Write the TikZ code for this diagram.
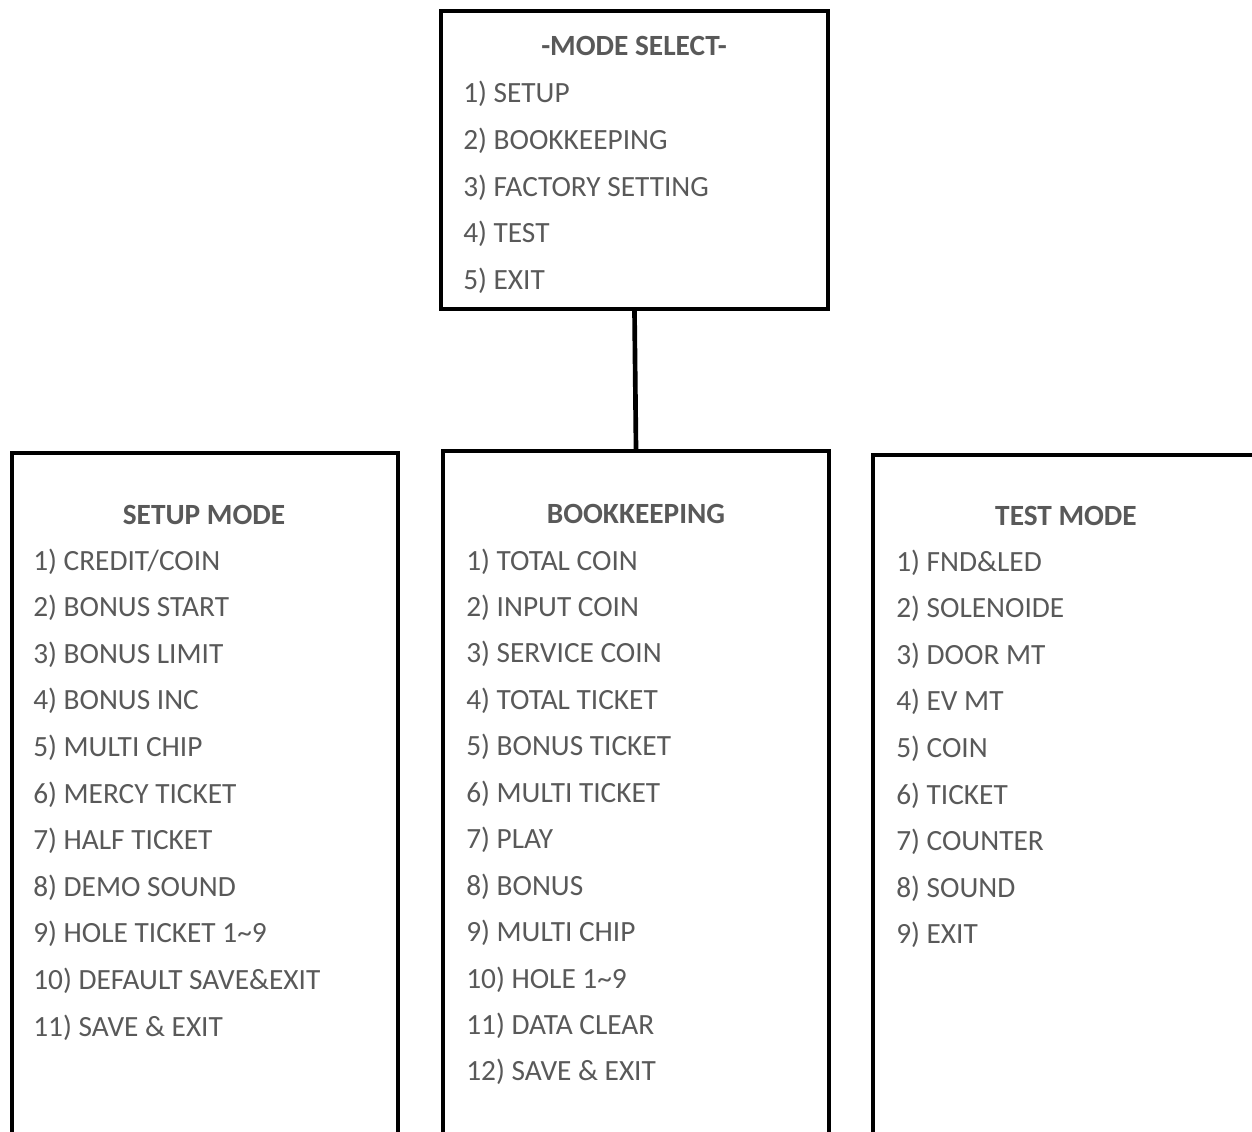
\documentclass[tikz,border=0pt]{standalone}
\usepackage{fontspec}
\setmainfont{Carlito}
\definecolor{ink}{HTML}{595959}

\begin{document}
\begin{tikzpicture}[x=.75pt,y=-.75pt,
  every node/.style={font=\fontsize{22}{26}\selectfont,text=ink},
  frame/.style={draw=black,line width=3pt,inner sep=0pt},
  item/.style={anchor=base west,inner sep=0pt},
  head/.style={anchor=base,inner sep=0pt,font=\fontsize{22}{26}\selectfont\bfseries}]
\useasboundingbox (0,0) rectangle (1252,1131);
\clip (0,0) rectangle (1252,1131);
% boxes
\node[frame,minimum width=290.25pt,minimum height=223.5pt] (sel) at (634.5,160){};
\node[frame,minimum width=289.5pt,minimum height=519pt] (setup) at (205,799){};
\node[frame,minimum width=289.5pt,minimum height=520.5pt] (book) at (636,798){};
\node[frame,minimum width=294pt,minimum height=517.5pt] (test) at (1069,800){};
\draw[line width=3.5pt] (sel.south) -- (book.north);
% headings
\node[head] (selhead) at (634,56){-MODE SELECT-};
\node[head] (setuphead) at (204,524){SETUP MODE};
\node[head] (bookhead) at (636,523){BOOKKEEPING};
\node[head] (testhead) at (1066,525){TEST MODE};
% menu items
\foreach \t [count=\i from 0] in {1) SETUP,2) BOOKKEEPING,3) FACTORY SETTING,4) TEST,5) EXIT}
  {\node[item] (m\i) at (463,103+46.5*\i){\t};}
\foreach \t [count=\i from 0] in {1) CREDIT/COIN,2) BONUS START,3) BONUS LIMIT,4) BONUS INC,
  5) MULTI CHIP,6) MERCY TICKET,7) HALF TICKET,8) DEMO SOUND,9) HOLE TICKET 1\textasciitilde9,
  10) DEFAULT SAVE\&EXIT,11) SAVE \& EXIT}
  {\node[item] (s\i) at (33,570+46.6*\i){\t};}
\foreach \t [count=\i from 0] in {1) TOTAL COIN,2) INPUT COIN,3) SERVICE COIN,4) TOTAL TICKET,
  5) BONUS TICKET,6) MULTI TICKET,7) PLAY,8) BONUS,9) MULTI CHIP,10) HOLE 1\textasciitilde9,
  11) DATA CLEAR,12) SAVE \& EXIT}
  {\node[item] (b\i) at (466,570+46.45*\i){\t};}
\foreach \t [count=\i from 0] in {1) FND\&LED,2) SOLENOIDE,3) DOOR MT,4) EV MT,5) COIN,
  6) TICKET,7) COUNTER,8) SOUND,9) EXIT}
  {\node[item] (t\i) at (896,571+46.6*\i){\t};}
\end{tikzpicture}
\end{document}
